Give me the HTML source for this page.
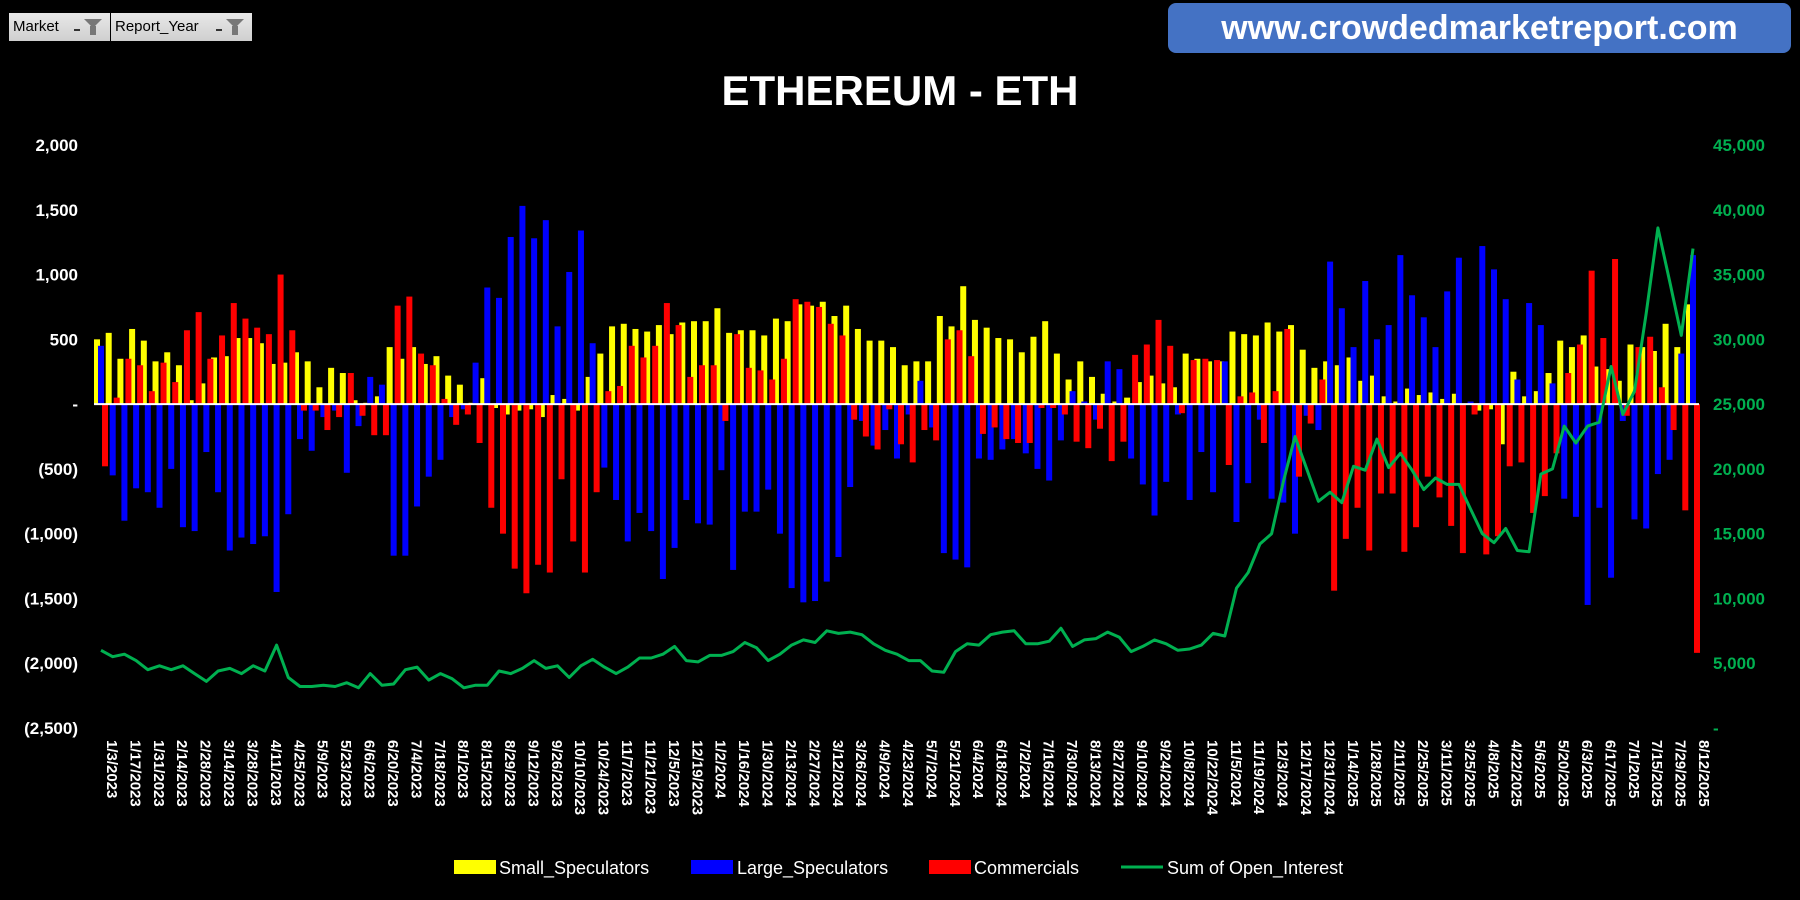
<!DOCTYPE html>
<html><head><meta charset="utf-8">
<style>
html,body{margin:0;padding:0;background:#000;}
body{width:1800px;height:900px;position:relative;overflow:hidden;font-family:"Liberation Sans",sans-serif;}
.btn{position:absolute;top:13px;height:28px;background:linear-gradient(#e8e8e8,#cfcfcf);color:#000;font-size:15px;line-height:28px;padding-left:4px;box-sizing:border-box;}
.btn .f{position:absolute;right:8px;top:6px;width:0;height:0;border-left:9px solid transparent;border-right:9px solid transparent;border-top:9px solid #777;}
.btn .f:after{content:"";position:absolute;left:-3px;top:-2px;width:6px;height:9px;background:#777;}
.btn .d{position:absolute;right:30px;top:16px;width:6px;height:2px;background:#333;}
#banner{position:absolute;left:1168px;top:3px;width:623px;height:50px;background:#4472c4;border-radius:8px;color:#fff;font-weight:bold;font-size:34px;line-height:50px;text-align:center;}
</style></head>
<body>
<div class="btn" style="left:9px;width:101px;">Market<span class="d"></span><span class="f"></span></div>
<div class="btn" style="left:111px;width:141px;">Report_Year<span class="d"></span><span class="f"></span></div>
<div id="banner">www.crowdedmarketreport.com</div>
<svg id="chart" width="1800" height="900" style="position:absolute;left:0;top:0"></svg>
<script>
const startDate = [2023, 0, 3];
const small = [500,550,350,580,490,330,400,300,30,160,360,370,510,510,470,310,320,400,330,130,280,240,30,10,60,440,350,440,310,370,220,150,10,200,-30,-80,-50,-40,-100,70,40,-50,210,390,600,620,580,560,610,540,630,640,
640,740,550,570,570,530,660,640,770,760,790,680,760,580,490,490,440,300,330,330,680,600,910,650,590,510,500,400,520,640,390,190,330,210,80,20,50,170,220,160,130,390,350,330,330,560,540,530,630,560,610,420,280,
330,300,360,180,220,60,20,120,70,90,40,80,0,-50,-40,-310,250,60,100,240,490,440,530,290,270,180,460,440,410,620,440,770];
const large = [450,-550,-900,-650,-680,-800,-500,-950,-980,-370,-680,-1130,-1030,-1080,-1020,-1450,-850,-270,-360,-100,-50,-530,-170,210,150,-1170,-1170,-790,-560,-430,-100,-40,320,900,820,1290,1530,1280,1420,600,1020,1340,470,-490,-740,-1060,-840,-980,-1350,-1110,-740,-920,
-930,-510,-1280,-830,-830,-660,-1000,-1420,-1530,-1520,-1370,-1180,-640,-130,-320,-200,-420,-80,180,-180,-1150,-1200,-1260,-420,-430,-350,-270,-380,-500,-590,-280,100,20,-120,330,270,-420,-620,-860,-600,-80,-740,-370,-680,330,-910,-610,-120,-730,-760,-1000,-90,-200,
1100,740,440,950,500,610,1150,840,670,440,870,1130,20,1220,1040,810,190,780,610,160,-730,-870,-1550,-800,-1340,-130,-890,-960,-540,-430,390,1150];
const commercials = [-480,50,350,300,100,320,170,570,710,350,530,780,660,590,540,1000,570,-50,-50,-200,-100,240,-90,-240,-240,760,830,390,300,40,-160,-80,-300,-800,-1000,-1270,-1460,-1240,-1300,-580,-1060,-1300,-680,100,140,450,360,450,780,610,210,300,
300,-130,540,280,260,190,350,810,790,750,620,530,-120,-250,-350,-40,-310,-450,-200,-280,500,570,370,-230,-180,-270,-300,-300,-30,-30,-80,-290,-340,-190,-440,-290,380,460,650,450,-70,340,350,340,-470,60,90,-300,100,580,-560,-150,190,
-1440,-1040,-800,-1130,-690,-690,-1140,-950,-560,-720,-940,-1150,-80,-1160,-1020,-480,-450,-840,-710,-380,240,460,1030,510,1120,-90,440,520,130,-200,-820,-1920];
const openInterest = [6,5.5,5.7,5.2,4.5,4.8,4.5,4.8,4.2,3.6,4.4,4.6,4.2,4.8,4.4,6.4,3.9,3.2,3.2,3.3,3.2,3.5,3.1,4.2,3.3,3.4,4.5,4.7,3.7,4.2,3.8,3.1,3.3,3.3,4.4,4.2,4.6,5.2,4.6,4.8,3.9,4.8,5.3,4.7,4.2,4.7,5.4,5.4,5.7,6.3,5.2,5.1,
5.6,5.6,5.9,6.6,6.2,5.2,5.7,6.4,6.8,6.6,7.5,7.3,7.4,7.2,6.5,6.0,5.7,5.2,5.2,4.4,4.3,5.9,6.5,6.4,7.2,7.4,7.5,6.5,6.5,6.7,7.7,6.3,6.8,6.9,7.4,7.0,5.9,6.3,6.8,6.5,6.0,6.1,6.4,7.3,7.1,10.8,12,14.2,15,19,22.5,20,17.5,
18.2,17.4,20.2,19.9,22.3,20.1,21.2,19.9,18.4,19.3,18.8,18.8,16.9,15,14.3,15.4,13.7,13.6,19.6,20,23.3,22,23.3,23.6,27.9,24.2,26,32,38.6,34.5,30.3,37];
const leftTicks = [2000,1500,1000,500,0,-500,-1000,-1500,-2000,-2500];
const leftTickLabels = ["2,000","1,500","1,000","500","-","(500)","(1,000)","(1,500)","(2,000)","(2,500)"];
const rightTicks = [45000,40000,35000,30000,25000,20000,15000,10000,5000,0];
const rightTickLabels = ["45,000","40,000","35,000","30,000","25,000","20,000","15,000","10,000","5,000","-"];

const NS="http://www.w3.org/2000/svg";
const svg=document.getElementById('chart');
function mk(tag,attrs,parent){const e=document.createElementNS(NS,tag);for(const k in attrs)e.setAttribute(k,attrs[k]);(parent||svg).appendChild(e);return e;}
const N=small.length;
const x0=101,x1=1693,yTop=145,yBot=728;
const xAt=i=>x0+(x1-x0)*i/(N-1);
const yL=v=>yTop+(2000-v)/4500*(yBot-yTop);
const yR=v=>yTop+(45000-v)/45000*(yBot-yTop);

const title=mk('text',{x:900,y:105,'text-anchor':'middle',fill:'#fff','font-size':42,'font-weight':'bold'});


title.textContent='ETHEREUM - ETH';

leftTicks.forEach((v,i)=>{const t=mk('text',{x:78,y:yL(v)+6,'text-anchor':'end',fill:'#fff','font-size':17,'font-weight':'bold'});


t.textContent=leftTickLabels[i];});
rightTicks.forEach((v,i)=>{const t=mk('text',{x:1713,y:yR(v)+6,'text-anchor':'start',fill:'#00b050','font-size':17,'font-weight':'bold'});


t.textContent=rightTickLabels[i];});

const bw=6;
const series=[[small,'#ffff00',-4,'bar-small-speculators'],[large,'#0000ff',0,'bar-large-speculators'],[commercials,'#ff0000',4,'bar-commercials']];
series.forEach(([arr,col,off,name])=>{
  arr.forEach((v,i)=>{const y0=yL(0),y=yL(v);
    const r=mk('rect',{x:xAt(i)+off-bw/2,y:Math.min(y0,y),width:bw,height:Math.abs(y-y0),fill:col});
    
    
  });
});
const zl=mk('line',{x1:94,x2:1699,y1:yL(0),y2:yL(0),stroke:'#fff','stroke-width':2});



const pts=openInterest.map((v,i)=>xAt(i).toFixed(1)+','+yR(v*1000).toFixed(1)).join(' ');
const pl=mk('polyline',{points:pts,fill:'none',stroke:'#00b050','stroke-width':3,'stroke-linejoin':'round'});



const d=new Date(startDate[0],startDate[1],startDate[2]);
for(let i=0;i<N;i+=2){
  const dd=new Date(d.getTime()+i*7*86400000);
  const lab=(dd.getMonth()+1)+'/'+dd.getDate()+'/'+dd.getFullYear();
  const t=mk('text',{transform:`translate(${xAt(i)+6},${740}) rotate(90)`,fill:'#fff','font-size':15,'font-weight':'bold'});
  
  
  t.textContent=lab;
}

const legend=[['box','#ffff00',454,499,'Small_Speculators'],['box','#0000ff',691,737,'Large_Speculators'],['box','#ff0000',929,974,'Commercials'],['line','#00b050',1121,1167,'Sum of Open_Interest']];
legend.forEach(([k,c,bx,tx,label])=>{
  const g=mk('g',{});
  
  
  if(k==='box') mk('rect',{x:bx,y:860,width:42,height:14,fill:c},g);
  else mk('line',{x1:bx,x2:bx+42,y1:867,y2:867,stroke:c,'stroke-width':3},g);
  const t=mk('text',{x:tx,y:874,fill:'#fff','font-size':18},g);
  t.textContent=label;
});
</script>
</body></html>
